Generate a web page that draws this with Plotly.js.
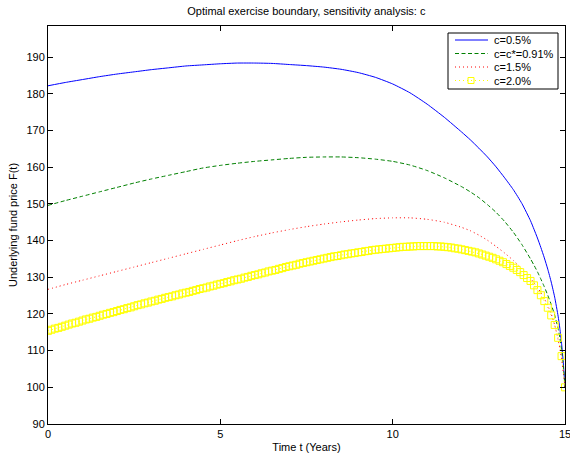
<!DOCTYPE html>
<html>
<head>
<meta charset="utf-8">
<script src="https://cdn.plot.ly/plotly-3.0.1.min.js"></script>
<style>html,body{margin:0;padding:0;background:#fff;}#chart{width:570px;height:458px;}</style>
</head>
<body>
<div id="chart"></div>
<script>
// time grid for the three line series (denser near maturity)
const tLine = [0,0.5,1,1.5,2,2.5,3,3.5,4,4.5,5,5.5,6,6.5,7,7.5,8,8.5,9,9.5,10,10.5,11,11.5,12,12.25,12.5,12.75,13,13.25,13.5,13.75,14,14.1,14.2,14.3,14.4,14.5,14.6,14.7,14.8,14.85,14.9,14.95,15];

const c05 = [182.2,183.1,183.9,184.7,185.4,186.0,186.6,187.1,187.6,187.9,188.2,188.4,188.4,188.3,188.0,187.7,187.3,186.7,185.8,184.5,182.7,180.3,177.2,173.6,169.6,167.5,165.2,162.8,160.1,157.1,153.9,150.1,145.4,143.1,140.7,138.1,135.3,132.2,128.7,124.6,119.4,116.1,112.0,106.8,100.0];

const c091 = [149.6,150.9,152.1,153.3,154.5,155.7,156.8,157.8,158.8,159.8,160.5,161.1,161.6,162.0,162.4,162.7,162.8,162.8,162.6,162.2,161.6,160.6,159.1,157.1,154.7,153.3,151.7,149.8,147.7,145.2,142.3,138.9,135.0,133.3,131.5,129.5,127.4,125.1,122.6,119.7,116.0,113.5,110.3,105.9,100.0];

const c15 = [126.7,128.0,129.2,130.4,131.6,132.8,134.0,135.2,136.4,137.6,138.8,140.0,141.1,142.1,143.0,143.8,144.5,145.1,145.6,146.0,146.2,146.2,145.8,145.0,143.6,142.7,141.5,140.1,138.4,136.6,134.6,132.3,129.7,128.5,127.2,125.8,124.2,122.3,120.0,117.0,113.0,110.6,107.7,104.2,100.0];

// marker series, step 0.1 years
const tMark = [0,0.1,0.2,0.3,0.4,0.5,0.6,0.7,0.8,0.9,1,1.1,1.2,1.3,1.4,1.5,1.6,1.7,1.8,1.9,2,2.1,2.2,2.3,2.4,2.5,2.6,2.7,2.8,2.9,3,3.1,3.2,3.3,3.4,3.5,3.6,3.7,3.8,3.9,4,4.1,4.2,4.3,4.4,4.5,4.6,4.7,4.8,4.9,5,5.1,5.2,5.3,5.4,5.5,5.6,5.7,5.8,5.9,6,6.1,6.2,6.3,6.4,6.5,6.6,6.7,6.8,6.9,7,7.1,7.2,7.3,7.4,7.5,7.6,7.7,7.8,7.9,8,8.1,8.2,8.3,8.4,8.5,8.6,8.7,8.8,8.9,9,9.1,9.2,9.3,9.4,9.5,9.6,9.7,9.8,9.9,10,10.1,10.2,10.3,10.4,10.5,10.6,10.7,10.8,10.9,11,11.1,11.2,11.3,11.4,11.5,11.6,11.7,11.8,11.9,12,12.1,12.2,12.3,12.4,12.5,12.6,12.7,12.8,12.9,13,13.1,13.2,13.3,13.4,13.5,13.6,13.7,13.8,13.9,14,14.1,14.2,14.3,14.4,14.5,14.6,14.7,14.8,14.9,15];

const c20 = [115.4,115.7,116.0,116.2,116.5,116.8,
117.1,117.4,117.6,117.9,118.2,
118.5,118.7,119.0,119.2,119.5,
119.8,120.0,120.3,120.5,120.8,
121.1,121.3,121.6,121.8,122.1,
122.4,122.6,122.9,123.1,123.4,
123.6,123.9,124.1,124.4,124.6,
124.8,125.1,125.3,125.6,125.8,
126.0,126.3,126.5,126.8,127.0,
127.2,127.5,127.7,128.0,128.2,
128.4,128.7,128.9,129.2,129.4,
129.6,129.9,130.1,130.4,130.6,
130.8,131.1,131.3,131.6,131.8,
132.0,132.3,132.5,132.8,133.0,
133.2,133.4,133.7,133.9,134.1,
134.3,134.5,134.7,134.9,135.1,
135.3,135.5,135.7,135.8,136.0,
136.2,136.3,136.5,136.6,136.8,
136.9,137.1,137.2,137.4,137.5,
137.6,137.7,137.8,137.9,138.0,
138.1,138.2,138.3,138.3,138.4,
138.4,138.5,138.5,138.5,138.5,
138.5,138.5,138.4,138.4,138.3,
138.2,138.1,137.9,137.8,137.6,
137.4,137.2,137.0,136.8,136.5,
136.2,135.9,135.6,135.3,134.9,
134.5,134.1,133.6,133.1,132.6,
132.0,131.4,130.6,129.8,129.0,
127.8,126.5,125.1,123.5,121.7,
119.6,117.0,113.5,108.5,100.0];

const names = ["c=0.5%", "c=c*=0.91%", "c=1.5%", "c=2.0%"];
const colors = ["#0000ff", "#008000", "#ff0000", "#ffff00"];
const dashes = ["solid", "4px,2.5px", "1px,3px", "1px,3px"];
const xTicks = [0,5,10,15];
const yTicks = [90,100,110,120,130,140,150,160,170,180,190];

const FONT = "Liberation Sans, Arial, Helvetica, sans-serif";

const traces = [
  {x: tLine, y: c05, name: names[0], mode: "lines", line: {color: colors[0], width: 1, dash: dashes[0], shape: "spline", smoothing: 0.5}},
  {x: tLine, y: c091, name: names[1], mode: "lines", line: {color: colors[1], width: 1, dash: dashes[1], shape: "spline", smoothing: 0.5}},
  {x: tLine, y: c15, name: names[2], mode: "lines", line: {color: colors[2], width: 1, dash: dashes[2], shape: "spline", smoothing: 0.5}},
  {x: tMark, y: c20, name: names[3], mode: "lines+markers", line: {color: colors[3], width: 1, dash: dashes[3]},
   marker: {symbol: "square-open", size: 7, color: colors[3], line: {width: 1, color: colors[3]}}}
];

// plot-area geometry in pixels (for the boxed legend)
const PL = 48, PR = 565, PT = 26, PB = 424;
const px = v => (v - PL) / (PR - PL);
const py = v => (PB - v) / (PB - PT);

const shapes = [];
const annotations = [];
shapes.push({type: "rect", xref: "paper", yref: "paper", x0: px(448), x1: px(558), y0: py(89), y1: py(33),
  line: {color: "#000", width: 1}, fillcolor: "#fff", layer: "above"});
const rowY = [40, 53.5, 67, 80.5];
names.forEach((nm, i) => {
  shapes.push({type: "line", xref: "paper", yref: "paper", x0: px(455), x1: px(488), y0: py(rowY[i]), y1: py(rowY[i]),
    line: {color: colors[i], width: 1, dash: dashes[i]}, layer: "above"});
  annotations.push({xref: "paper", yref: "paper", x: px(492), y: py(rowY[i]), xanchor: "left", yanchor: "middle",
    text: nm, showarrow: false, font: {family: FONT, size: 11, color: "#000"}});
});
shapes.push({type: "rect", xref: "paper", yref: "paper", x0: px(468), x1: px(474), y0: py(rowY[3] + 3), y1: py(rowY[3] - 3),
  line: {color: colors[3], width: 1}, fillcolor: "rgba(0,0,0,0)", layer: "above"});

const axisCommon = {
  showline: true, linecolor: "#000", linewidth: 1, mirror: "allticks",
  ticks: "inside", ticklen: 5, tickwidth: 1, tickcolor: "#000",
  showgrid: false, zeroline: false, ticklabeloverflow: "allow",
  tickfont: {family: FONT, size: 11, color: "#000"}
};

const layout = {
  width: 570, height: 458,
  margin: {l: PL, r: 570 - PR, t: PT, b: 458 - PB, pad: 0},
  paper_bgcolor: "#fff", plot_bgcolor: "#fff",
  font: {family: FONT, size: 11, color: "#000"},
  title: {text: "Optimal exercise boundary, sensitivity analysis: c", font: {family: FONT, size: 11, color: "#000"}, x: 0.5375, xanchor: "center", y: 0.976, yanchor: "middle"},
  xaxis: Object.assign({}, axisCommon, {range: [0, 15], tickvals: xTicks, ticktext: xTicks.map(String),
    title: {text: "Time t (Years)", font: {family: FONT, size: 11, color: "#000"}, standoff: 4}}),
  yaxis: Object.assign({}, axisCommon, {range: [90, 198.5], tickvals: yTicks, ticktext: yTicks.map(String),
    title: {text: "Underlying fund price F(t)", font: {family: FONT, size: 11, color: "#000"}, standoff: 6}}),
  showlegend: false,
  shapes: shapes,
  annotations: annotations
};

Plotly.newPlot("chart", traces, layout, {staticPlot: true, displayModeBar: false});
</script>
</body>
</html>
